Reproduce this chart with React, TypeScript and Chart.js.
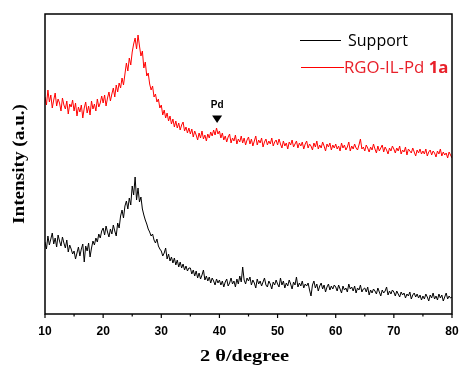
import React, { useEffect, useRef } from "react";
import { Chart, registerables } from "chart.js";

Chart.register(...registerables);

// 2θ sampling grid (degrees)
const startDeg = 10;
const stepDeg = 0.25;

// RGO-IL-Pd 1a intensity (a.u.)
const redIntensity = [
  217, 209, 224, 212, 219, 206, 214, 221, 208, 215, 211, 203, 216, 209, 205, 213, 200, 210, 207, 214,
  203, 211, 198, 207, 202, 209, 196, 206, 212, 201, 208, 199, 213, 205, 210, 203, 215, 207, 211, 218,
  211, 219, 208, 216, 222, 213, 220, 226, 217, 229, 222, 231, 226, 236, 229, 240, 251, 243, 256, 249,
  262, 270, 276, 265, 279, 268, 258, 263, 246, 252, 238, 241, 230, 224, 228, 217, 220, 212, 215, 206,
  209, 199, 204, 196, 201, 193, 198, 190, 195, 187, 193, 186, 191, 184, 189, 192, 183, 187, 181, 186,
  180, 185, 177, 183, 179, 174, 181, 176, 183, 175, 179, 173, 180, 176, 182, 178, 184, 179, 186, 180,
  183, 176, 181, 174, 178, 172, 177, 180, 171, 176, 173, 179, 170, 175, 172, 178, 171, 176, 169, 174,
  177, 170, 175, 168, 173, 178, 169, 174, 171, 176, 167, 172, 175, 169, 173, 170, 176, 168, 172, 174,
  169, 175, 170, 166, 173, 168, 171, 165, 172, 169, 174, 167, 170, 173, 166, 171, 168, 172, 165, 170,
  173, 166, 170, 168, 164, 171, 167, 173, 165, 169, 166, 172, 168, 163, 170, 167, 171, 164, 169, 166,
  170, 165, 168, 163, 171, 166, 169, 164, 167, 172, 163, 168, 165, 170, 166, 164, 169, 175, 165, 167,
  163, 169, 166, 162, 167, 164, 170, 165, 161, 168, 163, 166, 169, 162, 167, 164, 160, 166, 163, 168,
  165, 161, 166, 163, 168, 160, 164, 162, 167, 159, 165, 163, 161, 166, 162, 158, 164, 161, 165, 160,
  163, 160, 165, 158, 162, 164, 159, 163, 161, 157, 163, 160, 165, 158, 162, 159, 161, 156, 162, 159,
  156,
];

// Support intensity (a.u.)
const blackIntensity = [
  72, 65, 78, 69, 75, 81, 70, 76, 67, 79, 73, 68, 77, 71, 66, 74, 62, 69, 65, 60,
  63, 55, 61, 67, 58, 65, 70, 52, 68, 63, 71, 57, 66, 73, 69, 76, 72, 80, 76, 83,
  86, 79, 88, 82, 77, 85, 80, 89, 83, 78, 91, 86, 98, 104, 96, 108, 113, 105, 116, 109,
  128, 119, 137, 114, 126, 112, 117, 105, 99, 94, 90, 85, 82, 78, 80, 74, 71, 75, 68, 65,
  63, 58, 61, 66, 55, 60, 53, 57, 51, 56, 49, 54, 47, 52, 46, 50, 44, 48, 43, 46,
  46, 40, 44, 38, 43, 36, 41, 35, 39, 44, 34, 38, 33, 37, 31, 36, 33, 29, 35, 31,
  34, 29, 33, 27, 32, 35, 28, 31, 36, 30, 33, 27, 35, 30, 38, 32, 47, 34, 30, 36,
  33, 37, 29, 34, 31, 26, 35, 30, 33, 28, 32, 36, 29, 27, 33, 30, 25, 32, 29, 34,
  30, 27, 36, 29, 33, 26, 31, 28, 34, 30, 25, 32, 29, 37, 27, 31, 28, 33, 26, 30,
  28, 31, 24, 18, 29, 33, 26, 30, 23, 28, 31, 25, 29, 22, 27, 30, 24, 28, 25, 29,
  27, 23, 29, 25, 21, 28, 24, 26, 22, 30, 25, 27, 23, 28, 21, 26, 24, 29, 22, 25,
  26, 22, 27, 19, 24, 21, 25, 23, 20, 26, 22, 18, 24, 21, 23, 27, 19, 23, 20, 24,
  22, 18, 23, 20, 17, 22, 19, 21, 16, 20, 18, 22, 15, 19, 21, 17, 20, 16, 19, 14,
  18, 15, 20, 17, 13, 19, 16, 21, 15, 18, 14, 20, 16, 19, 13, 17, 21, 15, 18, 16,
  17,
];

const seriesNames = ["Support", "RGO-IL-Pd "];
const seriesSuffix = "1a";
const majorTicks = [10, 20, 30, 40, 50, 60, 70, 80];
const minorTicks = [15, 25, 35, 45, 55, 65, 75];
const xRange = [10, 80];
const yRange = [0, 300];
// Pd reflection marker
const pdMarker = { x: 39.6, labelY: 209, arrowY: 195, text: "Pd" };

const RED = "#ff0000";
const RED_TEXT = "#e8202a";

const toPoints = (arr: number[]) => arr.map((v, i) => ({ x: startDeg + i * stepDeg, y: v }));

const decorPlugin = {
  id: "decor",
  afterDraw(chart: any) {
    const { ctx, chartArea } = chart;
    const xs = chart.scales.x;
    const ys = chart.scales.y;
    const { left, right, top, bottom } = chartArea;
    ctx.save();
    // frame
    ctx.strokeStyle = "#000";
    ctx.lineWidth = 1.5;
    ctx.strokeRect(left, top, right - left, bottom - top);
    // ticks
    ctx.lineWidth = 1.2;
    ctx.beginPath();
    majorTicks.forEach((t) => {
      const px = xs.getPixelForValue(t);
      ctx.moveTo(px, bottom);
      ctx.lineTo(px, bottom + 4);
    });
    minorTicks.forEach((t) => {
      const px = xs.getPixelForValue(t);
      ctx.moveTo(px, bottom);
      ctx.lineTo(px, bottom + 2.5);
    });
    ctx.stroke();

    // axis titles
    ctx.fillStyle = "#000";
    ctx.font = "bold 17px 'Liberation Serif', 'Times New Roman', serif";
    ctx.textAlign = "center";
    ctx.textBaseline = "middle";
    ctx.save();
    ctx.translate((left + right) / 2 - 4, 357);
    ctx.scale(1.2, 1);
    ctx.fillText("2 θ/degree", 0, 0);
    ctx.restore();
    ctx.save();
    ctx.font = "bold 16px 'Liberation Serif', 'Times New Roman', serif";
    ctx.translate(20, (top + bottom) / 2);
    ctx.rotate(-Math.PI / 2);
    ctx.scale(1.2, 1);
    ctx.fillText("Intensity (a.u.)", 0, 0);
    ctx.restore();

    // legend
    ctx.lineWidth = 1;
    ctx.strokeStyle = "#000";
    ctx.beginPath();
    ctx.moveTo(300, 40.5);
    ctx.lineTo(341, 40.5);
    ctx.stroke();
    ctx.strokeStyle = RED;
    ctx.beginPath();
    ctx.moveTo(301, 67.5);
    ctx.lineTo(344, 67.5);
    ctx.stroke();
    ctx.textAlign = "left";
    ctx.font = "16px 'Open Sans', sans-serif";
    ctx.fillStyle = "#000";
    ctx.fillText(seriesNames[0], 348, 41);
    ctx.fillStyle = RED_TEXT;
    ctx.save();
    ctx.translate(344, 68);
    ctx.scale(1.05, 1);
    ctx.fillText(seriesNames[1], 0, 0);
    const w = ctx.measureText(seriesNames[1]).width;
    ctx.font = "bold 16px 'Open Sans', sans-serif";
    ctx.fillText(seriesSuffix, w, 0);
    ctx.restore();

    // Pd marker
    const mx = xs.getPixelForValue(pdMarker.x);
    const ly = ys.getPixelForValue(pdMarker.labelY);
    const ay = ys.getPixelForValue(pdMarker.arrowY);
    ctx.fillStyle = "#000";
    ctx.font = "bold 10px 'Liberation Sans', Arial, sans-serif";
    ctx.textAlign = "center";
    ctx.fillText(pdMarker.text, mx, ly);
    ctx.beginPath();
    ctx.moveTo(mx - 5, ay - 3.5);
    ctx.lineTo(mx + 5, ay - 3.5);
    ctx.lineTo(mx, ay + 4);
    ctx.closePath();
    ctx.fill();
    ctx.restore();
  },
};

export default function App() {
  const ref = useRef<HTMLCanvasElement | null>(null);
  useEffect(() => {
    if (!ref.current) return;
    const chart = new Chart(ref.current, {
      type: "line",
      data: {
        datasets: [
          {
            label: "Support",
            data: toPoints(blackIntensity),
            borderColor: "#000",
            borderWidth: 1,
            pointRadius: 0,
            tension: 0,
          },
          {
            label: "RGO-IL-Pd 1a",
            data: toPoints(redIntensity),
            borderColor: RED,
            borderWidth: 1,
            pointRadius: 0,
            tension: 0,
          },
        ],
      },
      options: {
        animation: false,
        responsive: false,
        parsing: false as any,
        layout: { padding: { left: 0, top: 14, right: 7, bottom: 0 } },
        plugins: { legend: { display: false }, tooltip: { enabled: false } },
        scales: {
          x: {
            type: "linear",
            min: xRange[0],
            max: xRange[1],
            grid: { display: false, drawTicks: false },
            border: { display: false },
            ticks: {
              stepSize: 10,
              autoSkip: false,
              maxRotation: 0,
              padding: 10,
              color: "#000",
              font: { family: "'Liberation Sans', Arial, sans-serif", weight: "bold", size: 12 },
            },
            afterFit: (s: any) => {
              s.height = 51;
              s.paddingLeft = 0;
              s.paddingRight = 0;
            },
          },
          y: {
            min: yRange[0],
            max: yRange[1],
            grid: { display: false, drawTicks: false },
            border: { display: false },
            ticks: { display: false },
            afterFit: (s: any) => {
              s.width = 45;
              s.paddingTop = 0;
              s.paddingBottom = 0;
            },
          },
        },
      },
      plugins: [decorPlugin],
    });
    return () => chart.destroy();
  }, []);
  return (
    <div style={{ position: "fixed", left: 0, top: 0, width: 459, height: 365, background: "#fff" }}>
      <canvas ref={ref} width={459} height={365} />
    </div>
  );
}
